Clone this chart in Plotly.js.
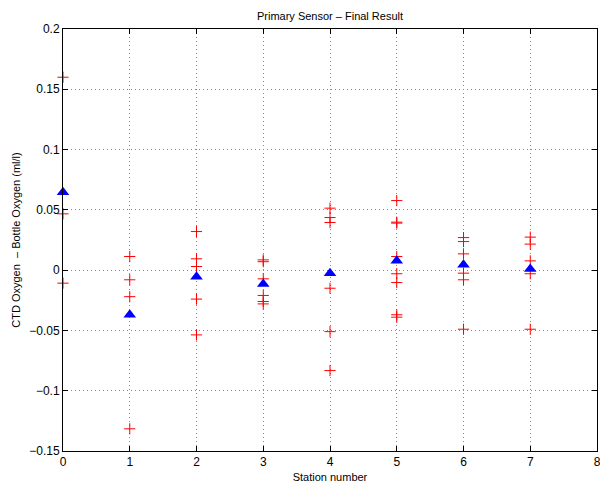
<!DOCTYPE html>
<html>
<head>
<meta charset="utf-8">
<script src="https://cdn.plot.ly/plotly-3.0.1.min.js"></script>
<style>html,body{margin:0;padding:0;background:#fff;}#chart{width:600px;height:483px;}</style>
</head>
<body>
<div id="chart"></div>
<script>
// Individual bottle residuals (red +)
const stationX = [0,0,0, 1,1,1,1, 2,2,2,2,2, 3,3,3,3,3,3, 4,4,4,4,4,4, 5,5,5,5,5,5,5,5, 6,6,6,6,6,6, 7,7,7,7,7];
const residuals = [0.160,0.0467,-0.0108,
  0.0113,-0.008,-0.022,-0.1316,
  0.032,0.0094,0.003,-0.024,-0.0537,
  0.0085,0.007,-0.0072,-0.021,-0.026,-0.028,
  0.0514,0.0436,0.0395,-0.015,-0.051,-0.0833,
  0.0577,0.0398,0.039,0.0113,-0.003,-0.0103,-0.037,-0.039,
  0.027,0.0237,0.0135,-0.0025,-0.008,-0.049,
  0.0274,0.0216,0.0077,-0.003,-0.049];
// Station means (blue triangles)
const stations = [0,1,2,3,4,5,6,7];
const means = [0.0645,-0.037,-0.0055,-0.0114,-0.0025,0.0077,0.0044,0.001];
const xTicks = [0,1,2,3,4,5,6,7,8];

const font = {family:'Liberation Sans, Arial, sans-serif', color:'#000'};
const data = [
  {x: stationX, y: residuals, type:'scatter', mode:'markers', cliponaxis:false,
   marker:{symbol:'cross-thin-open', size:8, color:'#ff0000', line:{color:'#ff0000', width:1}}, hoverinfo:'x+y'},
  {x: stations, y: means, type:'scatter', mode:'markers', cliponaxis:false,
   marker:{symbol:'triangle-up', size:11, color:'#0000ff', line:{width:0}}}
];
const axisCommon = {showline:true, linecolor:'#000', linewidth:1, mirror:'ticks', ticks:'inside', ticklen:5, tickcolor:'#000',
  showgrid:true, gridcolor:'#888', griddash:'1px,3px', gridwidth:1, zeroline:false, tickfont:{...font, size:12},
  ticklabeloverflow:'allow'};
const layout = {
  width:600, height:483, showlegend:false,
  paper_bgcolor:'#fff', plot_bgcolor:'#fff',
  margin:{l:63, r:3, t:29, b:32},
  title:{text:'Primary Sensor \u2013 Final Result', font:{...font, size:11}, x:0.55, xanchor:'center', y:0.967, yanchor:'middle'},
  xaxis:{...axisCommon, range:[0,8], tickvals:xTicks, ticktext:xTicks.map(String),
    title:{text:'Station number', font:{...font, size:11}, standoff:4}},
  yaxis:{...axisCommon, range:[-0.15,0.2], dtick:0.05, tick0:0,
    title:{text:'CTD Oxygen  \u2013 Bottle Oxygen (ml/l)', font:{...font, size:11}, standoff:6}}
};
Plotly.newPlot('chart', data, layout, {displayModeBar:false, staticPlot:true});
</script>
</body>
</html>
